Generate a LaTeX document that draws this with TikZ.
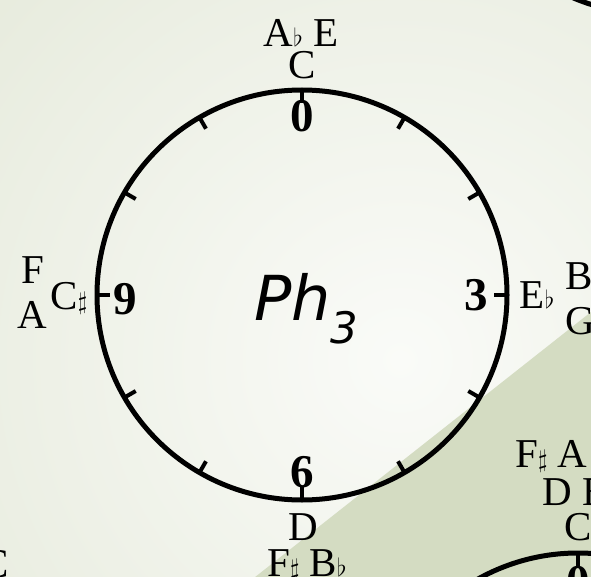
\documentclass[tikz,border=0pt]{standalone}
\usepackage{fontspec}
\setmainfont{Liberation Serif}
\newfontfamily\phfont{DejaVu Sans}
\usetikzlibrary{calc}
\definecolor{bgpale}{RGB}{226,231,214}
\definecolor{bgwhite}{RGB}{250,251,248}
\definecolor{bggreen}{RGB}{212,220,194}
\tikzset{
  every picture/.append style={line cap=round,line join=round},
  pc ring/.style={line width=5pt},
  pc tick/.style={line width=4pt,line cap=butt},
  pc note/.style={font=\fontsize{41}{41}\selectfont,inner sep=0pt},
  pc num/.style={font=\fontsize{47}{47}\selectfont\bfseries,inner sep=0pt},
  pc name/.style={font=\phfont\itshape\fontsize{62}{62}\selectfont,inner sep=0pt}
}
\begin{document}
\begin{tikzpicture}[x=1pt,y=-1pt]
    \useasboundingbox (0,0) rectangle (591,577);
    \clip (0,0) rectangle (591,577);
    % background
    \fill[bgpale] (0,0) rectangle (591,577);
    \shade[inner color=bgwhite,outer color=bgpale] (400,360) circle[radius=700];
    \fill[bggreen] (245,585) -- (591,312) -- (591,577) -- (245,585) -- cycle;
    % main ring
    \coordinate (ctr) at (302,295);
    \draw[pc ring] (ctr) circle[radius=205];
    \foreach \a in {0,30,...,330}
      \draw[pc tick] ($(ctr)+(\a:206)$) -- ($(ctr)+(\a:192)$);
    \node[pc num] (n0) at (302,116) {0};
    \node[pc num] (n3) at (476,295) {3};
    \node[pc num] (n6) at (302,472) {6};
    \node[pc num] (n9) at (125,299) {9};
    \node[pc name,anchor=base west] (ph) at (254,320) {Ph\textsubscript{3}};
    \node[pc note] (c0) at (302,65) {C};
    \node[pc note] (top) at (301,33) {A$\flat$ E};
    \node[pc note] (eb) at (537,295) {E$\flat$};
    \node[pc note,anchor=west] (rb) at (565,276) {B};
    \node[pc note,anchor=west] (rg) at (565,321) {G};
    \node[pc note] (dd) at (303,527) {D};
    \node[pc note] (bot) at (307,565) {F$\sharp$ B$\flat$};
    \node[pc note] (cs) at (69,298) {C$\sharp$};
    \node[pc note] (lf) at (33,270) {F};
    \node[pc note] (la) at (32,315) {A};
    % neighbouring rings
    \coordinate (ctrb) at (578,758);
    \draw[pc ring] (ctrb) circle[radius=205];
    \foreach \a in {0,30,...,330}
      \draw[pc tick] ($(ctrb)+(\a:206)$) -- ($(ctrb)+(\a:192)$);
    \node[pc num] (b0) at (578,582) {0};
    \node[pc note] (bc) at (578,527) {C};
    \node[pc note,anchor=west] (bd) at (542,492) {D B};
    \node[pc note,anchor=west] (bf) at (515,456) {F$\sharp$ A};
    \coordinate (ctrt) at (653,-191);
    \draw[pc ring] (ctrt) circle[radius=205];
    \node[pc note] (lc) at (-5,564) {C};
\end{tikzpicture}
\end{document}
